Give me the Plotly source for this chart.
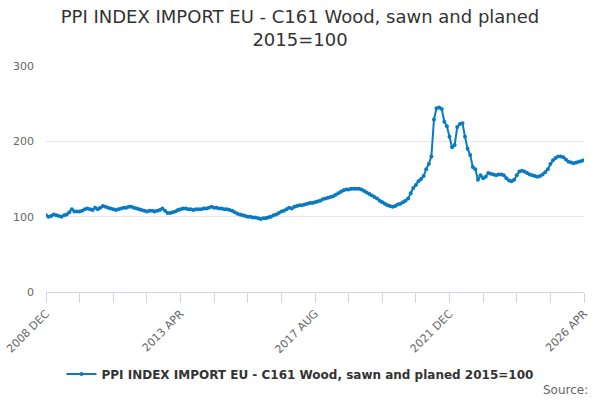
import plotly.graph_objects as go

# Monthly index values, 2008 DEC .. 2026 APR
START_YEAR = 2008
START_MONTH = 12
MONTH_NAMES = ['JAN', 'FEB', 'MAR', 'APR', 'MAY', 'JUN',
               'JUL', 'AUG', 'SEP', 'OCT', 'NOV', 'DEC']

ppi_values = [
    102, 100, 101, 103, 102, 101, 100, 102, 103, 106, 110, 107,
    107, 107, 108, 110, 111, 110, 109, 112, 110, 112, 114, 113,
    112, 111, 110, 109, 110, 111, 112, 112, 113, 113, 112, 111,
    110, 109, 108, 107, 108, 108, 107, 108, 109, 111, 108, 105,
    105, 106, 107, 109, 110, 111, 111, 110, 110, 109, 110, 110,
    110, 111, 111, 112, 113, 112, 112, 111, 111, 110, 110, 109,
    108, 106, 104, 103, 102, 101, 100, 100, 99, 99, 98, 97,
    98, 98, 99, 100, 102, 103, 105, 107, 108, 110, 112, 111,
    113, 114, 115, 115, 116, 117, 118, 118, 119, 120, 121, 123,
    124, 125, 126, 127, 129, 131, 133, 135, 136, 136, 137, 137,
    137, 137, 136, 134, 132, 130, 128, 126, 124, 121, 119, 117,
    115, 114, 113, 114, 116, 117, 119, 121, 124, 131, 138, 142,
    147, 150, 154, 163, 170, 180, 229, 244, 245, 243, 226, 220,
    206, 192, 195, 219, 223, 224, 206, 190, 182, 166, 163, 149,
    155, 151, 153, 158, 157, 156, 155, 156, 156, 155, 151, 148,
    147, 149, 155, 160, 161, 160, 158, 156, 155, 154, 153, 154,
    156, 159, 163, 170, 175, 178, 180, 180, 179, 176, 173, 172,
    171, 172, 173, 174, 175,
]

tick_labels = ['2008 DEC', '2013 APR', '2017 AUG', '2021 DEC', '2026 APR']
y_ticks = [0, 100, 200, 300]

TITLE = 'PPI INDEX IMPORT EU - C161 Wood, sawn and planed<br>2015=100'
SERIES_NAME = '<b>PPI INDEX IMPORT EU - C161 Wood, sawn and planed 2015=100</b>'
LINE_COLOR = '#0a7bc1'
FONT = 'DejaVu Sans, Verdana, sans-serif'

# month labels for the category axis
months = []
for k in range(len(ppi_values)):
    m = START_MONTH - 1 + k
    months.append(f'{START_YEAR + m // 12} {MONTH_NAMES[m % 12]}')

# tick marks every 13 months, labels only every 52
tick_vals = months[::13]
tick_text = [lab if lab in tick_labels else '' for lab in tick_vals]

fig = go.Figure()
fig.add_trace(go.Scatter(x=months, y=ppi_values, mode='lines+markers',
                         name=SERIES_NAME,
                         line=dict(color=LINE_COLOR, width=2),
                         marker=dict(color=LINE_COLOR, size=4)))

fig.update_layout(
    width=600, height=400,
    margin=dict(l=46, r=16, t=66, b=108),
    paper_bgcolor='white', plot_bgcolor='white',
    font=dict(family=FONT, color='#333333'),
    title=dict(text=TITLE, x=0.5, xanchor='center', y=0.943, yanchor='top',
               font=dict(size=18, color='#333333')),
    showlegend=True,
    legend=dict(orientation='h', x=0.472, xanchor='center', y=-0.363,
                yanchor='middle', itemwidth=30,
                font=dict(size=12, color='#333333')),
    hovermode=False,
)

fig.update_xaxes(type='category', tickmode='array', tickvals=tick_vals,
                 ticktext=tick_text, tickangle=-45, ticks='outside', ticklen=10,
                 tickcolor='#ccd6eb', showline=True, linecolor='#ccd6eb',
                 showgrid=False, tickfont=dict(size=11, color='#666666'),
                 range=[0, len(months) - 1], automargin=False)

fig.update_yaxes(range=[0, 300], tickvals=y_ticks, showgrid=True,
                 gridcolor='#e6e6e6', zeroline=False, showline=False,
                 tickfont=dict(size=11, color='#666666'), ticklabelstandoff=11,
                 automargin=False)

fig.add_annotation(text='Source:', xref='paper', yref='paper', x=1.011, y=-0.434,
                   xanchor='right', yanchor='middle', showarrow=False,
                   font=dict(size=12, color='#666666'))

# drop the page's default body margin so the 600x400 figure sits at the corner
fig.write_html('out.html', config={'displayModeBar': False},
               post_script="document.body.style.margin = '0';")
